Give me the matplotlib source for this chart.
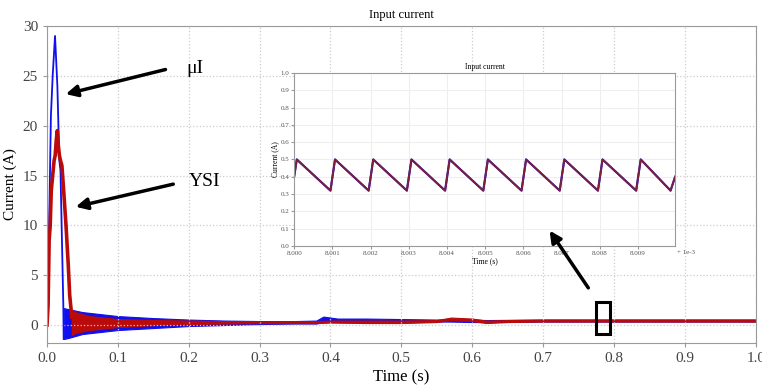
import matplotlib
matplotlib.use("Agg")
import matplotlib.pyplot as plt
from matplotlib.patches import Rectangle

plt.rcParams['font.family'] = ['Liberation Serif', 'DejaVu Serif']

# arranque de la corriente (uI en azul, YSI en rojo)
t_azul = [0, 0.001, 0.003, 0.0055, 0.008, 0.0113, 0.0146, 0.0174, 0.019, 0.023, 0.0235]
i_azul = [0, 3, 10, 21, 25, 29, 24, 16.5, 15.5, 2, -1.4]

t_rojo = [0, 0.0015, 0.003, 0.0045, 0.006, 0.008, 0.010, 0.0115, 0.013, 0.0145,
          0.016, 0.0175, 0.019, 0.021, 0.023, 0.0268, 0.030, 0.032, 0.035]
i_rojo = [0, 2, 8.5, 10, 13.5, 15, 16.5, 17, 18.5, 19.5,
          18, 17, 16.5, 16, 14, 10, 6, 3, 0.8]

# envolventes de la oscilacion despues del arranque
t_banda_azul = [0.0235, 0.03, 0.05, 0.1, 0.15, 0.2, 0.25, 0.3, 0.35, 0.38, 0.39,
                0.41, 0.45, 0.5, 0.55, 0.57, 0.6, 0.62, 0.7, 0.8, 0.9, 1.0]
sup_azul = [1.7, 1.6, 1.3, 0.9, 0.7, 0.55, 0.45, 0.4, 0.4, 0.45, 0.85,
            0.65, 0.65, 0.6, 0.55, 0.6, 0.55, 0.5, 0.55, 0.55, 0.55, 0.55]
inf_azul = [-1.4, -1.3, -0.9, -0.5, -0.3, -0.1, 0.0, 0.1, 0.15, 0.15, 0.3,
            0.3, 0.3, 0.3, 0.35, 0.35, 0.3, 0.3, 0.35, 0.35, 0.35, 0.35]

t_banda_rojo = [0.035, 0.04, 0.06, 0.1, 0.15, 0.2, 0.25, 0.3, 0.35, 0.38, 0.4,
                0.45, 0.5, 0.55, 0.57, 0.6, 0.62, 0.65, 0.7, 0.8, 0.9, 1.0]
sup_rojo = [1.5, 1.3, 0.9, 0.6, 0.5, 0.45, 0.4, 0.4, 0.4, 0.4, 0.45,
            0.45, 0.45, 0.5, 0.75, 0.65, 0.45, 0.5, 0.55, 0.55, 0.55, 0.55]
inf_rojo = [-1.0, -0.8, -0.5, -0.2, 0.0, 0.1, 0.15, 0.2, 0.2, 0.2, 0.25,
            0.2, 0.2, 0.3, 0.5, 0.4, 0.2, 0.3, 0.35, 0.35, 0.35, 0.35]

# diente de sierra del zoom (eje en unidades de 1e-3)
t_zoom = [8.0000, 8.00007, 8.00095, 8.00107, 8.00195, 8.00207, 8.00295, 8.00307,
          8.00395, 8.00407, 8.00495, 8.00507, 8.00595, 8.00607, 8.00695, 8.00707,
          8.00795, 8.00807, 8.00895, 8.00907, 8.00985, 8.00997]
i_zoom = [0.40, 0.50, 0.32, 0.50, 0.32, 0.50, 0.32, 0.50,
          0.32, 0.50, 0.32, 0.50, 0.32, 0.50, 0.32, 0.50,
          0.32, 0.50, 0.32, 0.50, 0.32, 0.40]

x_ticks = [0.0, 0.1, 0.2, 0.3, 0.4, 0.5, 0.6, 0.7, 0.8, 0.9, 1.0]
y_ticks = [0, 5, 10, 15, 20, 25, 30]
zoom_xticks = [8.000, 8.001, 8.002, 8.003, 8.004, 8.005, 8.006, 8.007, 8.008, 8.009]
zoom_yticks = [0.0, 0.1, 0.2, 0.3, 0.4, 0.5, 0.6, 0.7, 0.8, 0.9, 1.0]

azul = '#1010ee'
rojo = '#bb0a0a'
gris = '#9a9a9a'

fig = plt.figure(figsize=(7.62, 3.88), dpi=100)
ax = fig.add_axes([0.0617, 0.116, 0.930, 0.817])

ax.plot(t_azul, i_azul, color=azul, lw=1.3)
ax.fill_between(t_banda_azul, inf_azul, sup_azul, color=azul, lw=0.8)
ax.plot(t_rojo, i_rojo, color=rojo, lw=2.6)
ax.fill_between(t_banda_rojo, inf_rojo, sup_rojo, color=rojo, lw=0.8)

ax.set_xlim(0, 1.0)
ax.set_ylim(-1.8, 30)
ax.set_xticks(x_ticks)
ax.set_xticklabels(['%.1f' % v for v in x_ticks])
ax.set_yticks(y_ticks)
ax.grid(True, linestyle=':', color='#cccccc', lw=0.9)
for s in ax.spines.values():
    s.set_color(gris)
ax.tick_params(colors='#444444', labelsize=11, length=3, color=gris)
ax.set_title("Input current", fontsize=9, pad=6)
ax.set_xlabel("Time (s)", fontsize=12, labelpad=3)
ax.set_ylabel("Current (A)", fontsize=11, labelpad=4)

# flechas y etiquetas
flecha = dict(arrowstyle='-|>', lw=2.5, color='black', mutation_scale=17)
ax.annotate('', xy=(0.0226, 23.1), xytext=(0.171, 25.7), arrowprops=flecha)
ax.text(0.197, 25.7, 'μI', fontsize=14, va='center', ha='left')
ax.annotate('', xy=(0.0367, 11.8), xytext=(0.182, 14.2), arrowprops=flecha)
ax.text(0.200, 14.4, 'YSI', fontsize=14, va='center', ha='left')
ax.add_patch(Rectangle((0.774, -0.9), 0.020, 3.2, fill=False, lw=2.2, color='black', zorder=5))

# grafico pequeño
ins = fig.add_axes([0.386, 0.366, 0.500, 0.446])
ins.plot(t_zoom, i_zoom, color=azul, lw=1.5)
ins.plot(t_zoom, i_zoom, color='#7a1f3c', lw=1.4)
ins.set_xlim(8.000, 8.00997)
ins.set_ylim(0, 1.0)
ins.set_xticks(zoom_xticks)
ins.set_xticklabels(['%.3f' % v for v in zoom_xticks])
ins.set_yticks(zoom_yticks)
ins.set_yticklabels(['%.1f' % v for v in zoom_yticks])
ins.grid(True, color='#eeeeee', lw=0.8)
for s in ins.spines.values():
    s.set_color(gris)
ins.tick_params(colors='#555555', labelsize=5, length=2, color=gris, pad=1.5)
ins.set_title("Input current", fontsize=5.5, pad=3)
ins.set_xlabel("Time (s)", fontsize=5.5, labelpad=1)
ins.set_ylabel("Current (A)", fontsize=5.5, labelpad=1)
ins.text(1.005, -0.022, '+ 1e-3', transform=ins.transAxes, fontsize=5,
         ha='left', va='top', color='#555555')

ins.annotate('', xy=(0.707, 9.7), xytext=(0.766, 3.5), xycoords=ax.transData,
             textcoords=ax.transData, arrowprops=flecha, annotation_clip=False)

fig.savefig("out.png", dpi=100)
